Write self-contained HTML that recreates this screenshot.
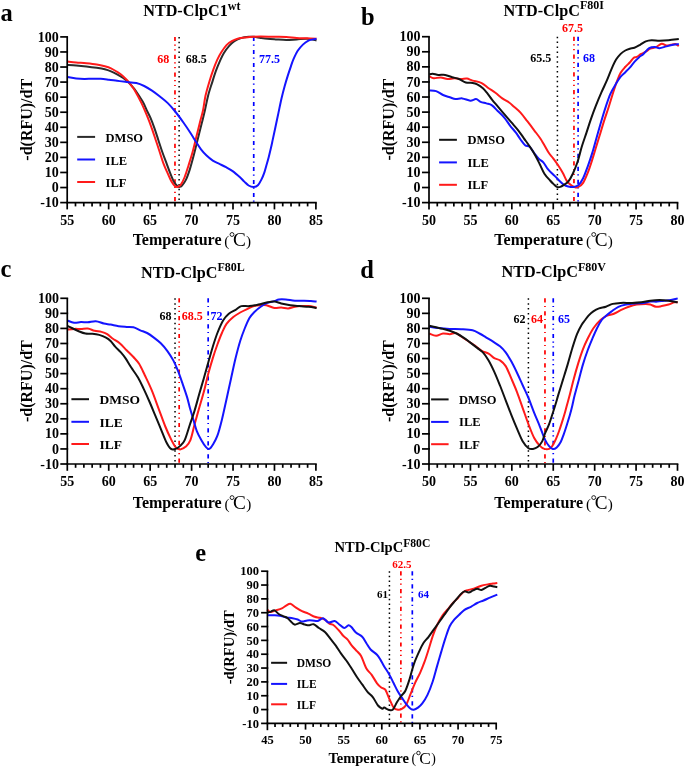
<!DOCTYPE html>
<html><head><meta charset="utf-8"><style>
html,body{margin:0;padding:0;background:#fff;}
svg{display:block;will-change:transform;}
text{font-family:"Liberation Serif", serif;font-weight:bold;fill:#000;}
</style></head><body>
<svg width="685" height="767" viewBox="0 0 685 767">
<rect width="685" height="767" fill="#fff"/>
<line x1="174.97" y1="36.90" x2="174.97" y2="202.60" stroke="#ff0000" stroke-width="1.7" stroke-dasharray="4.2 3.4 1.2 3.6 1.2 4.2"/>
<text x="157.20" y="63.00" font-size="12" fill="#ff0000" style="fill:#ff0000">68</text>
<line x1="179.12" y1="36.90" x2="179.12" y2="202.60" stroke="#000" stroke-width="1.5" stroke-dasharray="1.5 3.4"/>
<text x="185.80" y="63.00" font-size="12" fill="#000" style="fill:#000">68.5</text>
<line x1="253.73" y1="36.90" x2="253.73" y2="202.60" stroke="#0000ff" stroke-width="1.7" stroke-dasharray="4.2 3.4 1.2 4.2"/>
<text x="258.90" y="63.00" font-size="12" fill="#0000ff" style="fill:#0000ff">77.5</text>
<path d="M67.30,64.90 C68.78,64.98 73.02,65.15 76.20,65.40 C79.38,65.65 82.98,66.00 86.40,66.40 C89.82,66.80 93.63,67.32 96.70,67.80 C99.77,68.28 102.42,68.70 104.80,69.30 C107.18,69.90 108.95,70.55 111.00,71.40 C113.05,72.25 115.07,73.30 117.10,74.40 C119.13,75.50 121.33,76.72 123.20,78.00 C125.07,79.28 126.77,80.65 128.30,82.10 C129.83,83.55 131.20,85.30 132.40,86.70 C133.60,88.10 133.77,87.98 135.50,90.50 C137.23,93.02 140.95,98.55 142.80,101.80 C144.65,105.05 145.32,107.32 146.60,110.00 C147.88,112.68 149.18,114.83 150.50,117.90 C151.82,120.97 153.18,124.68 154.50,128.40 C155.82,132.12 157.10,136.27 158.40,140.20 C159.70,144.13 160.98,148.27 162.30,152.00 C163.62,155.73 164.98,159.08 166.30,162.60 C167.62,166.12 168.88,169.82 170.20,173.10 C171.52,176.38 173.00,180.12 174.20,182.30 C175.40,184.48 176.53,185.43 177.40,186.20 C178.27,186.97 178.63,187.02 179.40,186.90 C180.17,186.78 180.90,186.72 182.00,185.50 C183.10,184.28 184.68,182.33 186.00,179.60 C187.32,176.87 188.58,173.25 189.90,169.10 C191.22,164.95 192.58,159.73 193.90,154.70 C195.22,149.67 196.48,144.17 197.80,138.90 C199.12,133.63 200.60,127.92 201.80,123.10 C203.00,118.28 203.95,114.57 205.00,110.00 C206.05,105.43 206.92,100.27 208.10,95.70 C209.28,91.13 210.78,86.77 212.10,82.60 C213.42,78.43 214.68,74.32 216.00,70.70 C217.32,67.08 218.68,63.85 220.00,60.90 C221.32,57.95 222.37,55.52 223.90,53.00 C225.43,50.48 227.45,47.77 229.20,45.80 C230.95,43.83 232.43,42.48 234.40,41.20 C236.37,39.92 238.58,38.83 241.00,38.10 C243.42,37.37 246.72,37.02 248.90,36.80 C251.08,36.58 252.13,36.62 254.10,36.80 C256.07,36.98 258.47,37.57 260.70,37.90 C262.93,38.23 264.98,38.55 267.50,38.80 C270.02,39.05 272.67,39.20 275.80,39.40 C278.93,39.60 282.82,40.00 286.30,40.00 C289.78,40.00 293.23,39.60 296.70,39.40 C300.17,39.20 303.80,38.63 307.10,38.80 C310.40,38.97 314.93,40.13 316.50,40.40" fill="none" stroke="#2b2b2b" stroke-width="2" stroke-linejoin="round"/>
<path d="M67.30,61.50 C68.78,61.65 73.02,62.12 76.20,62.40 C79.38,62.68 82.98,62.87 86.40,63.20 C89.82,63.53 93.63,63.90 96.70,64.40 C99.77,64.90 102.42,65.55 104.80,66.20 C107.18,66.85 108.95,67.35 111.00,68.30 C113.05,69.25 115.23,70.72 117.10,71.90 C118.97,73.08 120.50,73.97 122.20,75.40 C123.90,76.83 125.77,78.78 127.30,80.50 C128.83,82.22 130.20,84.12 131.40,85.70 C132.60,87.28 132.82,87.10 134.50,90.00 C136.18,92.90 139.27,98.45 141.50,103.10 C143.73,107.75 146.18,113.68 147.90,117.90 C149.62,122.12 150.48,124.68 151.80,128.40 C153.12,132.12 154.48,136.27 155.80,140.20 C157.12,144.13 158.40,148.05 159.70,152.00 C161.00,155.95 162.28,160.38 163.60,163.90 C164.92,167.42 166.28,170.15 167.60,173.10 C168.92,176.05 170.30,179.47 171.50,181.60 C172.70,183.73 173.82,185.02 174.80,185.90 C175.78,186.78 176.42,187.07 177.40,186.90 C178.38,186.73 179.48,186.55 180.70,184.90 C181.92,183.25 183.38,180.28 184.70,177.00 C186.02,173.72 187.28,169.37 188.60,165.20 C189.92,161.03 191.28,156.82 192.60,152.00 C193.92,147.18 195.20,141.55 196.50,136.30 C197.80,131.05 199.30,124.88 200.40,120.50 C201.50,116.12 202.25,114.13 203.10,110.00 C203.95,105.87 204.43,100.50 205.50,95.70 C206.57,90.90 208.18,85.58 209.50,81.20 C210.82,76.82 212.10,73.00 213.40,69.40 C214.70,65.80 215.98,62.45 217.30,59.60 C218.62,56.75 219.77,54.72 221.30,52.30 C222.83,49.88 224.75,46.95 226.50,45.10 C228.25,43.25 229.82,42.30 231.80,41.20 C233.78,40.10 236.22,39.10 238.40,38.50 C240.58,37.90 242.50,37.88 244.90,37.60 C247.30,37.32 250.17,36.97 252.80,36.80 C255.43,36.63 256.87,36.62 260.70,36.60 C264.53,36.58 271.53,36.65 275.80,36.70 C280.07,36.75 282.82,36.70 286.30,36.90 C289.78,37.10 293.23,37.67 296.70,37.90 C300.17,38.13 303.80,38.15 307.10,38.30 C310.40,38.45 314.93,38.72 316.50,38.80" fill="none" stroke="#ff1a1a" stroke-width="2" stroke-linejoin="round"/>
<path d="M67.30,77.00 C68.78,77.25 73.35,78.17 76.20,78.50 C79.05,78.83 81.67,78.97 84.40,79.00 C87.13,79.03 89.88,78.73 92.60,78.70 C95.32,78.67 97.98,78.63 100.70,78.80 C103.42,78.97 106.17,79.37 108.90,79.70 C111.63,80.03 114.37,80.45 117.10,80.80 C119.83,81.15 122.10,81.42 125.30,81.80 C128.50,82.18 133.15,82.40 136.30,83.10 C139.45,83.80 141.58,84.75 144.20,86.00 C146.82,87.25 149.38,88.85 152.00,90.60 C154.62,92.35 157.27,94.42 159.90,96.50 C162.53,98.58 165.32,100.68 167.80,103.10 C170.28,105.52 172.20,107.77 174.80,111.00 C177.40,114.23 180.78,118.83 183.40,122.50 C186.02,126.17 188.43,129.83 190.50,133.00 C192.57,136.17 194.05,138.77 195.80,141.50 C197.55,144.23 199.25,147.10 201.00,149.40 C202.75,151.70 204.33,153.43 206.30,155.30 C208.27,157.17 210.62,159.17 212.80,160.60 C214.98,162.03 217.20,162.80 219.40,163.90 C221.60,165.00 223.80,166.00 226.00,167.20 C228.20,168.40 230.27,169.42 232.60,171.10 C234.93,172.78 238.05,175.55 240.00,177.30 C241.95,179.05 242.87,180.23 244.30,181.60 C245.73,182.97 247.05,184.60 248.60,185.50 C250.15,186.40 252.05,187.05 253.60,187.00 C255.15,186.95 256.58,186.47 257.90,185.20 C259.22,183.93 260.42,181.55 261.50,179.40 C262.58,177.25 263.57,174.68 264.40,172.30 C265.23,169.92 265.78,167.62 266.50,165.10 C267.22,162.58 267.98,159.95 268.70,157.20 C269.42,154.45 270.13,151.48 270.80,148.60 C271.47,145.72 271.95,143.38 272.70,139.90 C273.45,136.42 274.35,132.17 275.30,127.70 C276.25,123.23 277.37,117.97 278.40,113.10 C279.43,108.23 280.45,103.02 281.50,98.50 C282.55,93.98 283.65,89.82 284.70,86.00 C285.75,82.18 286.77,78.88 287.80,75.60 C288.83,72.32 289.95,69.03 290.90,66.30 C291.85,63.57 292.37,61.78 293.50,59.20 C294.63,56.62 296.13,53.23 297.70,50.80 C299.27,48.37 301.18,46.27 302.90,44.60 C304.62,42.93 306.32,41.67 308.00,40.80 C309.68,39.93 311.58,39.73 313.00,39.40 C314.42,39.07 315.92,38.90 316.50,38.80" fill="none" stroke="#1414ff" stroke-width="2" stroke-linejoin="round"/>
<line x1="67.20" y1="36.90" x2="67.20" y2="209.40" stroke="#000" stroke-width="1.7"/>
<line x1="66.35" y1="202.60" x2="316.75" y2="202.60" stroke="#000" stroke-width="1.7"/>
<line x1="60.20" y1="202.60" x2="68.05" y2="202.60" stroke="#000" stroke-width="1.7"/>
<text x="58.80" y="207.20" text-anchor="end" font-size="14">-10</text>
<line x1="60.20" y1="187.54" x2="68.05" y2="187.54" stroke="#000" stroke-width="1.7"/>
<text x="58.80" y="192.14" text-anchor="end" font-size="14">0</text>
<line x1="60.20" y1="172.47" x2="68.05" y2="172.47" stroke="#000" stroke-width="1.7"/>
<text x="58.80" y="177.07" text-anchor="end" font-size="14">10</text>
<line x1="60.20" y1="157.41" x2="68.05" y2="157.41" stroke="#000" stroke-width="1.7"/>
<text x="58.80" y="162.01" text-anchor="end" font-size="14">20</text>
<line x1="60.20" y1="142.35" x2="68.05" y2="142.35" stroke="#000" stroke-width="1.7"/>
<text x="58.80" y="146.95" text-anchor="end" font-size="14">30</text>
<line x1="60.20" y1="127.28" x2="68.05" y2="127.28" stroke="#000" stroke-width="1.7"/>
<text x="58.80" y="131.88" text-anchor="end" font-size="14">40</text>
<line x1="60.20" y1="112.22" x2="68.05" y2="112.22" stroke="#000" stroke-width="1.7"/>
<text x="58.80" y="116.82" text-anchor="end" font-size="14">50</text>
<line x1="60.20" y1="97.15" x2="68.05" y2="97.15" stroke="#000" stroke-width="1.7"/>
<text x="58.80" y="101.75" text-anchor="end" font-size="14">60</text>
<line x1="60.20" y1="82.09" x2="68.05" y2="82.09" stroke="#000" stroke-width="1.7"/>
<text x="58.80" y="86.69" text-anchor="end" font-size="14">70</text>
<line x1="60.20" y1="67.03" x2="68.05" y2="67.03" stroke="#000" stroke-width="1.7"/>
<text x="58.80" y="71.63" text-anchor="end" font-size="14">80</text>
<line x1="60.20" y1="51.96" x2="68.05" y2="51.96" stroke="#000" stroke-width="1.7"/>
<text x="58.80" y="56.56" text-anchor="end" font-size="14">90</text>
<line x1="60.20" y1="36.90" x2="68.05" y2="36.90" stroke="#000" stroke-width="1.7"/>
<text x="58.80" y="41.50" text-anchor="end" font-size="14">100</text>
<line x1="75.49" y1="202.60" x2="75.49" y2="206.40" stroke="#000" stroke-width="1.7"/>
<line x1="83.78" y1="202.60" x2="83.78" y2="206.40" stroke="#000" stroke-width="1.7"/>
<line x1="92.07" y1="202.60" x2="92.07" y2="206.40" stroke="#000" stroke-width="1.7"/>
<line x1="100.36" y1="202.60" x2="100.36" y2="206.40" stroke="#000" stroke-width="1.7"/>
<line x1="108.65" y1="202.60" x2="108.65" y2="209.40" stroke="#000" stroke-width="1.7"/>
<line x1="116.94" y1="202.60" x2="116.94" y2="206.40" stroke="#000" stroke-width="1.7"/>
<line x1="125.23" y1="202.60" x2="125.23" y2="206.40" stroke="#000" stroke-width="1.7"/>
<line x1="133.52" y1="202.60" x2="133.52" y2="206.40" stroke="#000" stroke-width="1.7"/>
<line x1="141.81" y1="202.60" x2="141.81" y2="206.40" stroke="#000" stroke-width="1.7"/>
<line x1="150.10" y1="202.60" x2="150.10" y2="209.40" stroke="#000" stroke-width="1.7"/>
<line x1="158.39" y1="202.60" x2="158.39" y2="206.40" stroke="#000" stroke-width="1.7"/>
<line x1="166.68" y1="202.60" x2="166.68" y2="206.40" stroke="#000" stroke-width="1.7"/>
<line x1="174.97" y1="202.60" x2="174.97" y2="206.40" stroke="#000" stroke-width="1.7"/>
<line x1="183.26" y1="202.60" x2="183.26" y2="206.40" stroke="#000" stroke-width="1.7"/>
<line x1="191.55" y1="202.60" x2="191.55" y2="209.40" stroke="#000" stroke-width="1.7"/>
<line x1="199.84" y1="202.60" x2="199.84" y2="206.40" stroke="#000" stroke-width="1.7"/>
<line x1="208.13" y1="202.60" x2="208.13" y2="206.40" stroke="#000" stroke-width="1.7"/>
<line x1="216.42" y1="202.60" x2="216.42" y2="206.40" stroke="#000" stroke-width="1.7"/>
<line x1="224.71" y1="202.60" x2="224.71" y2="206.40" stroke="#000" stroke-width="1.7"/>
<line x1="233.00" y1="202.60" x2="233.00" y2="209.40" stroke="#000" stroke-width="1.7"/>
<line x1="241.29" y1="202.60" x2="241.29" y2="206.40" stroke="#000" stroke-width="1.7"/>
<line x1="249.58" y1="202.60" x2="249.58" y2="206.40" stroke="#000" stroke-width="1.7"/>
<line x1="257.87" y1="202.60" x2="257.87" y2="206.40" stroke="#000" stroke-width="1.7"/>
<line x1="266.16" y1="202.60" x2="266.16" y2="206.40" stroke="#000" stroke-width="1.7"/>
<line x1="274.45" y1="202.60" x2="274.45" y2="209.40" stroke="#000" stroke-width="1.7"/>
<line x1="282.74" y1="202.60" x2="282.74" y2="206.40" stroke="#000" stroke-width="1.7"/>
<line x1="291.03" y1="202.60" x2="291.03" y2="206.40" stroke="#000" stroke-width="1.7"/>
<line x1="299.32" y1="202.60" x2="299.32" y2="206.40" stroke="#000" stroke-width="1.7"/>
<line x1="307.61" y1="202.60" x2="307.61" y2="206.40" stroke="#000" stroke-width="1.7"/>
<line x1="315.90" y1="202.60" x2="315.90" y2="209.40" stroke="#000" stroke-width="1.7"/>
<text x="67.20" y="224.80" text-anchor="middle" font-size="14">55</text>
<text x="108.65" y="224.80" text-anchor="middle" font-size="14">60</text>
<text x="150.10" y="224.80" text-anchor="middle" font-size="14">65</text>
<text x="191.55" y="224.80" text-anchor="middle" font-size="14">70</text>
<text x="233.00" y="224.80" text-anchor="middle" font-size="14">75</text>
<text x="274.45" y="224.80" text-anchor="middle" font-size="14">80</text>
<text x="315.90" y="224.80" text-anchor="middle" font-size="14">85</text>
<text x="132.65" y="245.30" font-size="16">Temperature</text>
<text x="224.35" y="245.60" font-size="15.20" font-weight="normal" style="font-weight:normal">(</text>
<circle cx="232.00" cy="234.50" r="1.95" fill="none" stroke="#000" stroke-width="0.85"/>
<text x="232.95" y="246.00" font-size="19.20" font-weight="normal" style="font-weight:normal">C</text>
<text x="251.15" y="245.60" font-size="15.20" text-anchor="end" font-weight="normal" style="font-weight:normal">)</text>
<text transform="translate(31.70,119.75) rotate(-90)" text-anchor="middle" font-size="16">-d(RFU)/dT</text>
<text x="143.20" y="16.10" font-size="16.2">NTD-ClpC1<tspan font-size="11.99" dy="-6.48">wt</tspan></text>
<text x="0.50" y="20.60" font-size="24.5">a</text>
<line x1="77.20" y1="136.90" x2="95.10" y2="136.90" stroke="#2b2b2b" stroke-width="2"/>
<text x="105.60" y="141.90" font-size="12.5">DMSO</text>
<line x1="77.20" y1="159.50" x2="95.10" y2="159.50" stroke="#1414ff" stroke-width="2"/>
<text x="105.60" y="164.50" font-size="12.5">ILE</text>
<line x1="77.20" y1="182.00" x2="95.10" y2="182.00" stroke="#ff1a1a" stroke-width="2"/>
<text x="105.60" y="187.00" font-size="12.5">ILF</text>
<line x1="557.39" y1="36.70" x2="557.39" y2="202.60" stroke="#000" stroke-width="1.5" stroke-dasharray="1.5 3.4"/>
<text x="530.30" y="62.20" font-size="12" fill="#000" style="fill:#000">65.5</text>
<line x1="573.96" y1="36.70" x2="573.96" y2="202.60" stroke="#ff0000" stroke-width="1.7" stroke-dasharray="4.2 3.4 1.2 3.6 1.2 4.2"/>
<text x="562.00" y="31.80" font-size="12" fill="#ff0000" style="fill:#ff0000">67.5</text>
<line x1="578.10" y1="36.70" x2="578.10" y2="202.60" stroke="#0000ff" stroke-width="1.7" stroke-dasharray="4.2 3.4 1.2 4.2"/>
<text x="583.10" y="62.20" font-size="12" fill="#0000ff" style="fill:#0000ff">68</text>
<path d="M429.30,76.30 C430.05,76.63 431.90,78.12 433.80,78.30 C435.70,78.48 438.42,77.28 440.70,77.40 C442.98,77.52 445.22,78.85 447.50,79.00 C449.78,79.15 452.12,78.30 454.40,78.30 C456.68,78.30 459.12,78.95 461.20,79.00 C463.28,79.05 465.00,78.33 466.90,78.60 C468.80,78.87 470.13,79.85 472.60,80.60 C475.07,81.35 479.03,81.83 481.70,83.10 C484.37,84.37 486.32,86.60 488.60,88.20 C490.88,89.80 493.12,91.00 495.40,92.70 C497.68,94.40 500.02,96.77 502.30,98.40 C504.58,100.03 507.20,101.17 509.10,102.50 C511.00,103.83 511.80,104.72 513.70,106.40 C515.60,108.08 518.23,110.13 520.50,112.60 C522.77,115.07 525.02,118.25 527.30,121.20 C529.58,124.15 531.92,127.25 534.20,130.30 C536.48,133.35 538.63,135.83 541.00,139.50 C543.37,143.17 546.37,149.17 548.40,152.30 C550.43,155.43 551.67,156.27 553.20,158.30 C554.73,160.33 556.02,162.10 557.60,164.50 C559.18,166.90 561.17,169.97 562.70,172.70 C564.23,175.43 565.43,178.85 566.80,180.90 C568.17,182.95 569.72,184.02 570.90,185.00 C572.08,185.98 572.72,186.43 573.90,186.80 C575.08,187.17 576.47,187.85 578.00,187.20 C579.53,186.55 581.40,185.48 583.10,182.90 C584.80,180.32 586.85,175.02 588.20,171.70 C589.55,168.38 590.03,166.62 591.20,163.00 C592.37,159.38 593.83,154.45 595.20,150.00 C596.57,145.55 597.93,141.12 599.40,136.30 C600.87,131.48 602.45,125.98 604.00,121.10 C605.55,116.22 607.13,111.90 608.70,107.00 C610.27,102.10 612.02,96.02 613.40,91.70 C614.78,87.38 615.82,84.23 617.00,81.10 C618.18,77.97 619.13,75.25 620.50,72.90 C621.87,70.55 623.62,68.77 625.20,67.00 C626.78,65.23 628.62,63.80 630.00,62.30 C631.38,60.80 632.38,58.90 633.50,58.00 C634.62,57.10 635.42,57.58 636.70,56.90 C637.98,56.22 639.68,54.77 641.20,53.90 C642.72,53.03 644.28,52.57 645.80,51.70 C647.32,50.83 648.60,49.47 650.30,48.70 C652.00,47.93 654.10,47.93 656.00,47.10 C657.90,46.27 659.98,43.97 661.70,43.70 C663.42,43.43 664.77,45.32 666.30,45.50 C667.83,45.68 669.38,45.03 670.90,44.80 C672.42,44.57 674.08,43.90 675.40,44.10 C676.72,44.30 678.23,45.68 678.80,46.00" fill="none" stroke="#ff1a1a" stroke-width="2" stroke-linejoin="round"/>
<path d="M429.30,90.40 C430.43,90.52 433.82,90.33 436.10,91.10 C438.38,91.87 440.72,93.97 443.00,95.00 C445.28,96.03 447.72,96.62 449.80,97.30 C451.88,97.98 453.42,98.92 455.50,99.10 C457.58,99.28 459.83,98.13 462.30,98.40 C464.77,98.67 468.02,100.58 470.30,100.70 C472.58,100.82 474.28,98.92 476.00,99.10 C477.72,99.28 478.88,101.08 480.60,101.80 C482.32,102.52 484.40,102.82 486.30,103.40 C488.20,103.98 490.10,104.03 492.00,105.30 C493.90,106.57 495.62,108.92 497.70,111.00 C499.78,113.08 502.42,115.33 504.50,117.80 C506.58,120.27 508.30,123.33 510.20,125.80 C512.10,128.27 514.18,130.32 515.90,132.60 C517.62,134.88 518.97,137.40 520.50,139.50 C522.03,141.60 523.58,143.98 525.10,145.20 C526.62,146.42 528.08,145.48 529.60,146.80 C531.12,148.12 532.68,151.10 534.20,153.10 C535.72,155.10 537.18,157.27 538.70,158.80 C540.22,160.33 541.77,160.58 543.30,162.30 C544.83,164.02 546.38,167.20 547.90,169.10 C549.42,171.00 550.88,172.18 552.40,173.70 C553.92,175.22 555.88,177.07 557.00,178.20 C558.12,179.33 557.98,179.43 559.10,180.50 C560.22,181.57 562.18,183.62 563.70,184.60 C565.22,185.58 566.50,186.02 568.20,186.40 C569.90,186.78 572.18,187.12 573.90,186.90 C575.62,186.68 576.97,186.55 578.50,185.10 C580.03,183.65 581.58,181.25 583.10,178.20 C584.62,175.15 586.08,170.98 587.60,166.80 C589.12,162.62 590.68,158.03 592.20,153.10 C593.72,148.17 595.18,142.52 596.70,137.20 C598.22,131.88 599.77,126.33 601.30,121.20 C602.83,116.07 604.38,110.95 605.90,106.40 C607.42,101.85 608.70,97.70 610.40,93.90 C612.10,90.10 614.38,86.47 616.10,83.60 C617.82,80.73 619.17,78.60 620.70,76.70 C622.23,74.80 623.78,73.72 625.30,72.20 C626.82,70.68 628.28,69.32 629.80,67.60 C631.32,65.88 632.88,63.60 634.40,61.90 C635.92,60.20 637.38,58.73 638.90,57.40 C640.42,56.07 641.78,55.43 643.50,53.90 C645.22,52.37 647.30,49.33 649.20,48.20 C651.10,47.07 653.18,47.10 654.90,47.10 C656.62,47.10 657.60,48.32 659.50,48.20 C661.40,48.08 664.03,46.97 666.30,46.40 C668.57,45.83 671.02,45.18 673.10,44.80 C675.18,44.42 677.85,44.22 678.80,44.10" fill="none" stroke="#1414ff" stroke-width="2" stroke-linejoin="round"/>
<path d="M429.30,74.50 C429.87,74.38 431.18,73.73 432.70,73.80 C434.22,73.87 436.32,74.72 438.40,74.90 C440.48,75.08 442.92,74.52 445.20,74.90 C447.48,75.28 449.82,76.52 452.10,77.20 C454.38,77.88 456.62,78.12 458.90,79.00 C461.18,79.88 463.52,81.85 465.80,82.50 C468.08,83.15 470.70,82.60 472.60,82.90 C474.50,83.20 475.48,83.42 477.20,84.30 C478.92,85.18 481.20,86.68 482.90,88.20 C484.60,89.72 485.88,91.50 487.40,93.40 C488.92,95.30 490.28,97.43 492.00,99.60 C493.72,101.77 495.62,103.93 497.70,106.40 C499.78,108.87 502.22,111.73 504.50,114.40 C506.78,117.07 509.12,119.75 511.40,122.40 C513.68,125.05 516.12,127.65 518.20,130.30 C520.28,132.95 522.00,135.63 523.90,138.30 C525.80,140.97 527.70,143.45 529.60,146.30 C531.50,149.15 533.58,152.37 535.30,155.40 C537.02,158.43 538.38,161.45 539.90,164.50 C541.42,167.55 542.70,171.03 544.40,173.70 C546.10,176.37 548.60,178.80 550.10,180.50 C551.60,182.20 552.28,182.83 553.40,183.90 C554.52,184.97 555.65,186.40 556.80,186.90 C557.95,187.40 559.15,187.20 560.30,186.90 C561.45,186.60 562.38,185.97 563.70,185.10 C565.02,184.23 566.68,183.60 568.20,181.70 C569.72,179.80 571.27,176.93 572.80,173.70 C574.33,170.47 575.88,166.87 577.40,162.30 C578.92,157.73 580.38,151.25 581.90,146.30 C583.42,141.35 584.98,137.17 586.50,132.60 C588.02,128.03 589.48,123.27 591.00,118.90 C592.52,114.53 593.88,110.77 595.60,106.40 C597.32,102.03 599.40,97.07 601.30,92.70 C603.20,88.33 605.28,84.18 607.00,80.20 C608.72,76.22 610.08,72.23 611.60,68.80 C613.12,65.37 614.58,62.08 616.10,59.60 C617.62,57.12 619.17,55.42 620.70,53.90 C622.23,52.38 623.78,51.37 625.30,50.50 C626.82,49.63 628.28,49.15 629.80,48.70 C631.32,48.25 632.68,48.45 634.40,47.80 C636.12,47.15 638.20,45.87 640.10,44.80 C642.00,43.73 643.90,42.15 645.80,41.40 C647.70,40.65 649.22,40.42 651.50,40.30 C653.78,40.18 656.65,40.70 659.50,40.70 C662.35,40.70 665.38,40.57 668.60,40.30 C671.82,40.03 677.10,39.30 678.80,39.10" fill="none" stroke="#111" stroke-width="2" stroke-linejoin="round"/>
<line x1="429.00" y1="36.70" x2="429.00" y2="209.40" stroke="#000" stroke-width="1.7"/>
<line x1="428.15" y1="202.60" x2="678.35" y2="202.60" stroke="#000" stroke-width="1.7"/>
<line x1="422.00" y1="202.60" x2="429.85" y2="202.60" stroke="#000" stroke-width="1.7"/>
<text x="420.60" y="207.20" text-anchor="end" font-size="14">-10</text>
<line x1="422.00" y1="187.52" x2="429.85" y2="187.52" stroke="#000" stroke-width="1.7"/>
<text x="420.60" y="192.12" text-anchor="end" font-size="14">0</text>
<line x1="422.00" y1="172.44" x2="429.85" y2="172.44" stroke="#000" stroke-width="1.7"/>
<text x="420.60" y="177.04" text-anchor="end" font-size="14">10</text>
<line x1="422.00" y1="157.35" x2="429.85" y2="157.35" stroke="#000" stroke-width="1.7"/>
<text x="420.60" y="161.95" text-anchor="end" font-size="14">20</text>
<line x1="422.00" y1="142.27" x2="429.85" y2="142.27" stroke="#000" stroke-width="1.7"/>
<text x="420.60" y="146.87" text-anchor="end" font-size="14">30</text>
<line x1="422.00" y1="127.19" x2="429.85" y2="127.19" stroke="#000" stroke-width="1.7"/>
<text x="420.60" y="131.79" text-anchor="end" font-size="14">40</text>
<line x1="422.00" y1="112.11" x2="429.85" y2="112.11" stroke="#000" stroke-width="1.7"/>
<text x="420.60" y="116.71" text-anchor="end" font-size="14">50</text>
<line x1="422.00" y1="97.03" x2="429.85" y2="97.03" stroke="#000" stroke-width="1.7"/>
<text x="420.60" y="101.63" text-anchor="end" font-size="14">60</text>
<line x1="422.00" y1="81.95" x2="429.85" y2="81.95" stroke="#000" stroke-width="1.7"/>
<text x="420.60" y="86.55" text-anchor="end" font-size="14">70</text>
<line x1="422.00" y1="66.86" x2="429.85" y2="66.86" stroke="#000" stroke-width="1.7"/>
<text x="420.60" y="71.46" text-anchor="end" font-size="14">80</text>
<line x1="422.00" y1="51.78" x2="429.85" y2="51.78" stroke="#000" stroke-width="1.7"/>
<text x="420.60" y="56.38" text-anchor="end" font-size="14">90</text>
<line x1="422.00" y1="36.70" x2="429.85" y2="36.70" stroke="#000" stroke-width="1.7"/>
<text x="420.60" y="41.30" text-anchor="end" font-size="14">100</text>
<line x1="437.28" y1="202.60" x2="437.28" y2="206.40" stroke="#000" stroke-width="1.7"/>
<line x1="445.57" y1="202.60" x2="445.57" y2="206.40" stroke="#000" stroke-width="1.7"/>
<line x1="453.85" y1="202.60" x2="453.85" y2="206.40" stroke="#000" stroke-width="1.7"/>
<line x1="462.13" y1="202.60" x2="462.13" y2="206.40" stroke="#000" stroke-width="1.7"/>
<line x1="470.42" y1="202.60" x2="470.42" y2="209.40" stroke="#000" stroke-width="1.7"/>
<line x1="478.70" y1="202.60" x2="478.70" y2="206.40" stroke="#000" stroke-width="1.7"/>
<line x1="486.98" y1="202.60" x2="486.98" y2="206.40" stroke="#000" stroke-width="1.7"/>
<line x1="495.27" y1="202.60" x2="495.27" y2="206.40" stroke="#000" stroke-width="1.7"/>
<line x1="503.55" y1="202.60" x2="503.55" y2="206.40" stroke="#000" stroke-width="1.7"/>
<line x1="511.83" y1="202.60" x2="511.83" y2="209.40" stroke="#000" stroke-width="1.7"/>
<line x1="520.12" y1="202.60" x2="520.12" y2="206.40" stroke="#000" stroke-width="1.7"/>
<line x1="528.40" y1="202.60" x2="528.40" y2="206.40" stroke="#000" stroke-width="1.7"/>
<line x1="536.68" y1="202.60" x2="536.68" y2="206.40" stroke="#000" stroke-width="1.7"/>
<line x1="544.97" y1="202.60" x2="544.97" y2="206.40" stroke="#000" stroke-width="1.7"/>
<line x1="553.25" y1="202.60" x2="553.25" y2="209.40" stroke="#000" stroke-width="1.7"/>
<line x1="561.53" y1="202.60" x2="561.53" y2="206.40" stroke="#000" stroke-width="1.7"/>
<line x1="569.82" y1="202.60" x2="569.82" y2="206.40" stroke="#000" stroke-width="1.7"/>
<line x1="578.10" y1="202.60" x2="578.10" y2="206.40" stroke="#000" stroke-width="1.7"/>
<line x1="586.38" y1="202.60" x2="586.38" y2="206.40" stroke="#000" stroke-width="1.7"/>
<line x1="594.67" y1="202.60" x2="594.67" y2="209.40" stroke="#000" stroke-width="1.7"/>
<line x1="602.95" y1="202.60" x2="602.95" y2="206.40" stroke="#000" stroke-width="1.7"/>
<line x1="611.23" y1="202.60" x2="611.23" y2="206.40" stroke="#000" stroke-width="1.7"/>
<line x1="619.52" y1="202.60" x2="619.52" y2="206.40" stroke="#000" stroke-width="1.7"/>
<line x1="627.80" y1="202.60" x2="627.80" y2="206.40" stroke="#000" stroke-width="1.7"/>
<line x1="636.08" y1="202.60" x2="636.08" y2="209.40" stroke="#000" stroke-width="1.7"/>
<line x1="644.37" y1="202.60" x2="644.37" y2="206.40" stroke="#000" stroke-width="1.7"/>
<line x1="652.65" y1="202.60" x2="652.65" y2="206.40" stroke="#000" stroke-width="1.7"/>
<line x1="660.93" y1="202.60" x2="660.93" y2="206.40" stroke="#000" stroke-width="1.7"/>
<line x1="669.22" y1="202.60" x2="669.22" y2="206.40" stroke="#000" stroke-width="1.7"/>
<line x1="677.50" y1="202.60" x2="677.50" y2="209.40" stroke="#000" stroke-width="1.7"/>
<text x="429.00" y="224.80" text-anchor="middle" font-size="14">50</text>
<text x="470.42" y="224.80" text-anchor="middle" font-size="14">55</text>
<text x="511.83" y="224.80" text-anchor="middle" font-size="14">60</text>
<text x="553.25" y="224.80" text-anchor="middle" font-size="14">65</text>
<text x="594.67" y="224.80" text-anchor="middle" font-size="14">70</text>
<text x="636.08" y="224.80" text-anchor="middle" font-size="14">75</text>
<text x="677.50" y="224.80" text-anchor="middle" font-size="14">80</text>
<text x="494.35" y="245.30" font-size="16">Temperature</text>
<text x="586.05" y="245.60" font-size="15.20" font-weight="normal" style="font-weight:normal">(</text>
<circle cx="593.70" cy="234.50" r="1.95" fill="none" stroke="#000" stroke-width="0.85"/>
<text x="594.65" y="246.00" font-size="19.20" font-weight="normal" style="font-weight:normal">C</text>
<text x="612.85" y="245.60" font-size="15.20" text-anchor="end" font-weight="normal" style="font-weight:normal">)</text>
<text transform="translate(393.50,119.65) rotate(-90)" text-anchor="middle" font-size="16">-d(RFU)/dT</text>
<text x="503.50" y="15.80" font-size="16.2">NTD-ClpC<tspan font-size="11.99" dy="-6.48">F80I</tspan></text>
<text x="361.00" y="24.70" font-size="24.5">b</text>
<line x1="439.10" y1="139.80" x2="456.90" y2="139.80" stroke="#111" stroke-width="2"/>
<text x="467.40" y="144.40" font-size="12.5">DMSO</text>
<line x1="439.10" y1="162.40" x2="456.90" y2="162.40" stroke="#1414ff" stroke-width="2"/>
<text x="467.40" y="167.00" font-size="12.5">ILE</text>
<line x1="439.10" y1="184.80" x2="456.90" y2="184.80" stroke="#ff1a1a" stroke-width="2"/>
<text x="467.40" y="189.40" font-size="12.5">ILF</text>
<line x1="175.03" y1="298.30" x2="175.03" y2="464.00" stroke="#000" stroke-width="1.5" stroke-dasharray="1.5 3.4"/>
<text x="159.60" y="320.00" font-size="12" fill="#000" style="fill:#000">68</text>
<line x1="179.17" y1="298.30" x2="179.17" y2="464.00" stroke="#ff0000" stroke-width="1.7" stroke-dasharray="4.2 3.4 1.2 3.6 1.2 4.2"/>
<text x="181.80" y="320.00" font-size="12" fill="#ff0000" style="fill:#ff0000">68.5</text>
<line x1="208.17" y1="298.30" x2="208.17" y2="464.00" stroke="#0000ff" stroke-width="1.7" stroke-dasharray="4.2 3.4 1.2 4.2"/>
<text x="210.60" y="320.00" font-size="12" fill="#0000ff" style="fill:#0000ff">72</text>
<path d="M67.30,329.60 C68.43,329.48 71.82,329.02 74.10,328.90 C76.38,328.78 78.72,328.97 81.00,328.90 C83.28,328.83 85.53,328.18 87.80,328.50 C90.07,328.82 92.32,330.23 94.60,330.80 C96.88,331.37 99.40,331.33 101.50,331.90 C103.60,332.47 105.30,333.07 107.20,334.20 C109.10,335.33 110.82,337.18 112.90,338.70 C114.98,340.22 117.42,341.38 119.70,343.30 C121.98,345.22 124.32,347.92 126.60,350.20 C128.88,352.48 131.32,354.73 133.40,357.00 C135.48,359.27 137.20,360.77 139.10,363.80 C141.00,366.83 142.70,370.82 144.80,375.20 C146.90,379.58 149.42,384.58 151.70,390.10 C153.98,395.62 156.23,402.23 158.50,408.30 C160.77,414.37 163.22,421.37 165.30,426.50 C167.38,431.63 169.28,435.67 171.00,439.10 C172.72,442.53 174.07,445.38 175.60,447.10 C177.13,448.82 178.48,449.48 180.20,449.40 C181.92,449.32 184.20,448.13 185.90,446.60 C187.60,445.07 188.95,443.92 190.40,440.20 C191.85,436.48 193.15,429.62 194.60,424.30 C196.05,418.98 197.58,413.63 199.10,408.30 C200.62,402.97 202.18,398.00 203.70,392.30 C205.22,386.60 206.68,379.80 208.20,374.10 C209.72,368.40 211.27,363.03 212.80,358.10 C214.33,353.17 215.88,348.68 217.40,344.50 C218.92,340.32 220.38,336.43 221.90,333.00 C223.42,329.57 224.60,326.55 226.50,323.90 C228.40,321.25 231.02,319.00 233.30,317.10 C235.58,315.20 237.92,313.83 240.20,312.50 C242.48,311.17 244.72,310.17 247.00,309.10 C249.28,308.03 251.62,306.75 253.90,306.10 C256.18,305.45 258.62,305.35 260.70,305.20 C262.78,305.05 264.12,304.73 266.40,305.20 C268.68,305.67 271.93,307.62 274.40,308.00 C276.87,308.38 278.92,307.43 281.20,307.50 C283.48,307.57 285.82,308.52 288.10,308.40 C290.38,308.28 292.63,307.18 294.90,306.80 C297.17,306.42 299.42,306.22 301.70,306.10 C303.98,305.98 306.12,305.87 308.60,306.10 C311.08,306.33 315.27,307.27 316.60,307.50" fill="none" stroke="#ff1a1a" stroke-width="2" stroke-linejoin="round"/>
<path d="M67.30,320.50 C68.43,320.88 71.82,322.53 74.10,322.80 C76.38,323.07 78.72,322.18 81.00,322.10 C83.28,322.02 85.33,322.45 87.80,322.30 C90.27,322.15 93.13,321.00 95.80,321.20 C98.47,321.40 101.33,322.93 103.80,323.50 C106.27,324.07 108.13,324.15 110.60,324.60 C113.07,325.05 115.93,325.82 118.60,326.20 C121.27,326.58 124.13,326.72 126.60,326.90 C129.07,327.08 131.12,326.73 133.40,327.30 C135.68,327.87 138.02,329.35 140.30,330.30 C142.58,331.25 144.83,331.78 147.10,333.00 C149.37,334.22 151.62,335.88 153.90,337.60 C156.18,339.32 158.52,341.02 160.80,343.30 C163.08,345.58 165.52,348.45 167.60,351.30 C169.68,354.15 171.58,357.17 173.30,360.40 C175.02,363.63 176.38,366.90 177.90,370.70 C179.42,374.50 180.88,378.83 182.40,383.20 C183.92,387.57 185.73,392.72 187.00,396.90 C188.27,401.08 188.93,404.50 190.00,408.30 C191.07,412.10 192.27,415.90 193.40,419.70 C194.53,423.50 195.47,427.68 196.80,431.10 C198.13,434.52 199.87,437.53 201.40,440.20 C202.93,442.87 204.67,445.65 206.00,447.10 C207.33,448.55 208.27,449.28 209.40,448.90 C210.53,448.52 211.47,447.00 212.80,444.80 C214.13,442.60 215.88,439.88 217.40,435.70 C218.92,431.52 220.38,425.78 221.90,419.70 C223.42,413.62 224.98,406.03 226.50,399.20 C228.02,392.37 229.48,385.55 231.00,378.70 C232.52,371.85 234.07,364.38 235.60,358.10 C237.13,351.82 238.68,345.93 240.20,341.00 C241.72,336.07 243.18,332.30 244.70,328.50 C246.22,324.70 247.77,320.87 249.30,318.20 C250.83,315.53 252.00,314.40 253.90,312.50 C255.80,310.60 258.43,308.40 260.70,306.80 C262.97,305.20 265.22,303.85 267.50,302.90 C269.78,301.95 272.50,301.67 274.40,301.10 C276.30,300.53 277.00,299.77 278.90,299.50 C280.80,299.23 283.13,299.30 285.80,299.50 C288.47,299.70 291.87,300.50 294.90,300.70 C297.93,300.90 301.33,300.63 304.00,300.70 C306.67,300.77 308.80,300.95 310.90,301.10 C313.00,301.25 315.65,301.52 316.60,301.60" fill="none" stroke="#1414ff" stroke-width="2" stroke-linejoin="round"/>
<path d="M67.30,325.80 C68.05,326.17 69.90,327.10 71.80,328.00 C73.70,328.90 76.42,330.28 78.70,331.20 C80.98,332.12 83.22,333.08 85.50,333.50 C87.78,333.92 90.12,333.47 92.40,333.70 C94.68,333.93 96.93,334.25 99.20,334.90 C101.47,335.55 104.10,336.58 106.00,337.60 C107.90,338.62 109.07,339.48 110.60,341.00 C112.13,342.52 113.48,344.80 115.20,346.70 C116.92,348.60 119.20,350.50 120.90,352.40 C122.60,354.30 123.70,355.62 125.40,358.10 C127.10,360.58 129.00,364.07 131.10,367.30 C133.20,370.53 135.90,373.90 138.00,377.50 C140.10,381.10 141.80,384.90 143.70,388.90 C145.60,392.90 147.50,397.13 149.40,401.50 C151.30,405.87 153.20,410.55 155.10,415.10 C157.00,419.65 158.90,424.23 160.80,428.80 C162.70,433.37 164.80,439.15 166.50,442.50 C168.20,445.85 169.48,447.83 171.00,448.90 C172.52,449.97 174.07,449.40 175.60,448.90 C177.13,448.40 178.68,447.35 180.20,445.90 C181.72,444.45 183.07,443.80 184.70,440.20 C186.33,436.60 188.35,429.23 190.00,424.30 C191.65,419.37 193.08,415.55 194.60,410.60 C196.12,405.65 197.58,399.92 199.10,394.60 C200.62,389.28 202.18,384.02 203.70,378.70 C205.22,373.38 206.68,368.03 208.20,362.70 C209.72,357.37 211.27,351.65 212.80,346.70 C214.33,341.75 215.68,337.37 217.40,333.00 C219.12,328.63 221.20,323.72 223.10,320.50 C225.00,317.28 226.72,315.48 228.80,313.70 C230.88,311.92 233.52,311.07 235.60,309.80 C237.68,308.53 239.02,306.72 241.30,306.10 C243.58,305.48 246.45,306.37 249.30,306.10 C252.15,305.83 255.37,305.13 258.40,304.50 C261.43,303.87 264.83,302.78 267.50,302.30 C270.17,301.82 272.12,301.42 274.40,301.60 C276.68,301.78 278.55,302.80 281.20,303.40 C283.85,304.00 287.25,304.75 290.30,305.20 C293.35,305.65 296.45,305.83 299.50,306.10 C302.55,306.37 305.75,306.48 308.60,306.80 C311.45,307.12 315.27,307.80 316.60,308.00" fill="none" stroke="#111" stroke-width="2" stroke-linejoin="round"/>
<line x1="67.30" y1="298.30" x2="67.30" y2="470.80" stroke="#000" stroke-width="1.7"/>
<line x1="66.45" y1="464.00" x2="316.75" y2="464.00" stroke="#000" stroke-width="1.7"/>
<line x1="60.30" y1="464.00" x2="68.15" y2="464.00" stroke="#000" stroke-width="1.7"/>
<text x="58.90" y="468.60" text-anchor="end" font-size="14">-10</text>
<line x1="60.30" y1="448.94" x2="68.15" y2="448.94" stroke="#000" stroke-width="1.7"/>
<text x="58.90" y="453.54" text-anchor="end" font-size="14">0</text>
<line x1="60.30" y1="433.87" x2="68.15" y2="433.87" stroke="#000" stroke-width="1.7"/>
<text x="58.90" y="438.47" text-anchor="end" font-size="14">10</text>
<line x1="60.30" y1="418.81" x2="68.15" y2="418.81" stroke="#000" stroke-width="1.7"/>
<text x="58.90" y="423.41" text-anchor="end" font-size="14">20</text>
<line x1="60.30" y1="403.75" x2="68.15" y2="403.75" stroke="#000" stroke-width="1.7"/>
<text x="58.90" y="408.35" text-anchor="end" font-size="14">30</text>
<line x1="60.30" y1="388.68" x2="68.15" y2="388.68" stroke="#000" stroke-width="1.7"/>
<text x="58.90" y="393.28" text-anchor="end" font-size="14">40</text>
<line x1="60.30" y1="373.62" x2="68.15" y2="373.62" stroke="#000" stroke-width="1.7"/>
<text x="58.90" y="378.22" text-anchor="end" font-size="14">50</text>
<line x1="60.30" y1="358.55" x2="68.15" y2="358.55" stroke="#000" stroke-width="1.7"/>
<text x="58.90" y="363.15" text-anchor="end" font-size="14">60</text>
<line x1="60.30" y1="343.49" x2="68.15" y2="343.49" stroke="#000" stroke-width="1.7"/>
<text x="58.90" y="348.09" text-anchor="end" font-size="14">70</text>
<line x1="60.30" y1="328.43" x2="68.15" y2="328.43" stroke="#000" stroke-width="1.7"/>
<text x="58.90" y="333.03" text-anchor="end" font-size="14">80</text>
<line x1="60.30" y1="313.36" x2="68.15" y2="313.36" stroke="#000" stroke-width="1.7"/>
<text x="58.90" y="317.96" text-anchor="end" font-size="14">90</text>
<line x1="60.30" y1="298.30" x2="68.15" y2="298.30" stroke="#000" stroke-width="1.7"/>
<text x="58.90" y="302.90" text-anchor="end" font-size="14">100</text>
<line x1="75.59" y1="464.00" x2="75.59" y2="467.80" stroke="#000" stroke-width="1.7"/>
<line x1="83.87" y1="464.00" x2="83.87" y2="467.80" stroke="#000" stroke-width="1.7"/>
<line x1="92.16" y1="464.00" x2="92.16" y2="467.80" stroke="#000" stroke-width="1.7"/>
<line x1="100.45" y1="464.00" x2="100.45" y2="467.80" stroke="#000" stroke-width="1.7"/>
<line x1="108.73" y1="464.00" x2="108.73" y2="470.80" stroke="#000" stroke-width="1.7"/>
<line x1="117.02" y1="464.00" x2="117.02" y2="467.80" stroke="#000" stroke-width="1.7"/>
<line x1="125.31" y1="464.00" x2="125.31" y2="467.80" stroke="#000" stroke-width="1.7"/>
<line x1="133.59" y1="464.00" x2="133.59" y2="467.80" stroke="#000" stroke-width="1.7"/>
<line x1="141.88" y1="464.00" x2="141.88" y2="467.80" stroke="#000" stroke-width="1.7"/>
<line x1="150.17" y1="464.00" x2="150.17" y2="470.80" stroke="#000" stroke-width="1.7"/>
<line x1="158.45" y1="464.00" x2="158.45" y2="467.80" stroke="#000" stroke-width="1.7"/>
<line x1="166.74" y1="464.00" x2="166.74" y2="467.80" stroke="#000" stroke-width="1.7"/>
<line x1="175.03" y1="464.00" x2="175.03" y2="467.80" stroke="#000" stroke-width="1.7"/>
<line x1="183.31" y1="464.00" x2="183.31" y2="467.80" stroke="#000" stroke-width="1.7"/>
<line x1="191.60" y1="464.00" x2="191.60" y2="470.80" stroke="#000" stroke-width="1.7"/>
<line x1="199.89" y1="464.00" x2="199.89" y2="467.80" stroke="#000" stroke-width="1.7"/>
<line x1="208.17" y1="464.00" x2="208.17" y2="467.80" stroke="#000" stroke-width="1.7"/>
<line x1="216.46" y1="464.00" x2="216.46" y2="467.80" stroke="#000" stroke-width="1.7"/>
<line x1="224.75" y1="464.00" x2="224.75" y2="467.80" stroke="#000" stroke-width="1.7"/>
<line x1="233.03" y1="464.00" x2="233.03" y2="470.80" stroke="#000" stroke-width="1.7"/>
<line x1="241.32" y1="464.00" x2="241.32" y2="467.80" stroke="#000" stroke-width="1.7"/>
<line x1="249.61" y1="464.00" x2="249.61" y2="467.80" stroke="#000" stroke-width="1.7"/>
<line x1="257.89" y1="464.00" x2="257.89" y2="467.80" stroke="#000" stroke-width="1.7"/>
<line x1="266.18" y1="464.00" x2="266.18" y2="467.80" stroke="#000" stroke-width="1.7"/>
<line x1="274.47" y1="464.00" x2="274.47" y2="470.80" stroke="#000" stroke-width="1.7"/>
<line x1="282.75" y1="464.00" x2="282.75" y2="467.80" stroke="#000" stroke-width="1.7"/>
<line x1="291.04" y1="464.00" x2="291.04" y2="467.80" stroke="#000" stroke-width="1.7"/>
<line x1="299.33" y1="464.00" x2="299.33" y2="467.80" stroke="#000" stroke-width="1.7"/>
<line x1="307.61" y1="464.00" x2="307.61" y2="467.80" stroke="#000" stroke-width="1.7"/>
<line x1="315.90" y1="464.00" x2="315.90" y2="470.80" stroke="#000" stroke-width="1.7"/>
<text x="67.30" y="486.20" text-anchor="middle" font-size="14">55</text>
<text x="108.73" y="486.20" text-anchor="middle" font-size="14">60</text>
<text x="150.17" y="486.20" text-anchor="middle" font-size="14">65</text>
<text x="191.60" y="486.20" text-anchor="middle" font-size="14">70</text>
<text x="233.03" y="486.20" text-anchor="middle" font-size="14">75</text>
<text x="274.47" y="486.20" text-anchor="middle" font-size="14">80</text>
<text x="315.90" y="486.20" text-anchor="middle" font-size="14">85</text>
<text x="132.70" y="508.40" font-size="16">Temperature</text>
<text x="224.40" y="508.70" font-size="15.20" font-weight="normal" style="font-weight:normal">(</text>
<circle cx="232.05" cy="497.60" r="1.95" fill="none" stroke="#000" stroke-width="0.85"/>
<text x="233.00" y="509.10" font-size="19.20" font-weight="normal" style="font-weight:normal">C</text>
<text x="251.20" y="508.70" font-size="15.20" text-anchor="end" font-weight="normal" style="font-weight:normal">)</text>
<text transform="translate(31.80,381.15) rotate(-90)" text-anchor="middle" font-size="16">-d(RFU)/dT</text>
<text x="141.00" y="277.80" font-size="16.2">NTD-ClpC<tspan font-size="11.99" dy="-6.48">F80L</tspan></text>
<text x="0.50" y="277.00" font-size="24.5">c</text>
<line x1="71.40" y1="399.20" x2="89.00" y2="399.20" stroke="#111" stroke-width="2"/>
<text x="99.50" y="404.30" font-size="13.5">DMSO</text>
<line x1="71.40" y1="421.80" x2="89.00" y2="421.80" stroke="#1414ff" stroke-width="2"/>
<text x="99.50" y="426.90" font-size="13.5">ILE</text>
<line x1="71.40" y1="444.00" x2="89.00" y2="444.00" stroke="#ff1a1a" stroke-width="2"/>
<text x="99.50" y="449.10" font-size="13.5">ILF</text>
<line x1="528.40" y1="298.30" x2="528.40" y2="464.00" stroke="#000" stroke-width="1.5" stroke-dasharray="1.5 3.4"/>
<text x="513.40" y="323.20" font-size="12" fill="#000" style="fill:#000">62</text>
<line x1="544.97" y1="298.30" x2="544.97" y2="464.00" stroke="#ff0000" stroke-width="1.7" stroke-dasharray="4.2 3.4 1.2 4.2"/>
<text x="530.90" y="323.20" font-size="12" fill="#ff0000" style="fill:#ff0000">64</text>
<line x1="553.25" y1="298.30" x2="553.25" y2="464.00" stroke="#0000ff" stroke-width="1.7" stroke-dasharray="4.2 3.4 1.2 3.6 1.2 4.2"/>
<text x="558.10" y="323.20" font-size="12" fill="#0000ff" style="fill:#0000ff">65</text>
<path d="M429.30,333.50 C430.43,333.88 433.82,335.80 436.10,335.80 C438.38,335.80 440.72,333.77 443.00,333.50 C445.28,333.23 447.72,334.28 449.80,334.20 C451.88,334.12 453.60,332.62 455.50,333.00 C457.40,333.38 459.12,335.17 461.20,336.50 C463.28,337.83 465.72,339.48 468.00,341.00 C470.28,342.52 472.62,343.97 474.90,345.60 C477.18,347.23 479.42,349.47 481.70,350.80 C483.98,352.13 486.50,352.38 488.60,353.60 C490.70,354.82 492.40,356.97 494.30,358.10 C496.20,359.23 498.10,359.07 500.00,360.40 C501.90,361.73 503.80,363.05 505.70,366.10 C507.60,369.15 509.50,374.33 511.40,378.70 C513.30,383.07 515.20,387.37 517.10,392.30 C519.00,397.23 520.90,402.97 522.80,408.30 C524.70,413.63 526.60,419.35 528.50,424.30 C530.40,429.25 532.30,434.40 534.20,438.00 C536.10,441.60 538.20,444.08 539.90,445.90 C541.60,447.72 542.77,448.45 544.40,448.90 C546.03,449.35 548.30,449.23 549.70,448.60 C551.10,447.97 551.75,446.73 552.80,445.10 C553.85,443.47 554.95,441.15 556.00,438.80 C557.05,436.45 558.07,433.87 559.10,431.00 C560.13,428.13 561.28,424.47 562.20,421.60 C563.12,418.73 563.82,416.53 564.60,413.80 C565.38,411.07 566.12,408.07 566.90,405.20 C567.68,402.33 568.20,400.82 569.30,396.60 C570.40,392.38 572.02,385.43 573.50,379.90 C574.98,374.37 576.63,368.48 578.20,363.40 C579.77,358.32 581.33,353.50 582.90,349.40 C584.47,345.30 585.85,342.33 587.60,338.80 C589.35,335.27 591.25,331.33 593.40,328.20 C595.55,325.07 598.32,322.05 600.50,320.00 C602.68,317.95 604.27,316.95 606.50,315.90 C608.73,314.85 611.53,314.65 613.90,313.70 C616.27,312.75 618.23,311.35 620.70,310.20 C623.17,309.05 626.03,307.75 628.70,306.80 C631.37,305.85 633.85,304.98 636.70,304.50 C639.55,304.02 643.53,303.90 645.80,303.90 C648.07,303.90 648.60,304.02 650.30,304.50 C652.00,304.98 654.10,306.53 656.00,306.80 C657.90,307.07 659.60,306.48 661.70,306.10 C663.80,305.72 666.50,305.13 668.60,304.50 C670.70,303.87 672.78,302.67 674.30,302.30 C675.82,301.93 677.13,302.30 677.70,302.30" fill="none" stroke="#ff1a1a" stroke-width="2" stroke-linejoin="round"/>
<path d="M429.30,326.70 C430.82,326.92 434.98,327.63 438.40,328.00 C441.82,328.37 446.00,328.70 449.80,328.90 C453.60,329.10 457.40,328.97 461.20,329.20 C465.00,329.43 469.55,329.58 472.60,330.30 C475.65,331.02 477.22,332.28 479.50,333.50 C481.78,334.72 484.03,336.23 486.30,337.60 C488.57,338.97 490.82,340.25 493.10,341.70 C495.38,343.15 497.90,344.52 500.00,346.30 C502.10,348.08 503.80,349.85 505.70,352.40 C507.60,354.95 509.50,358.17 511.40,361.60 C513.30,365.03 515.20,369.02 517.10,373.00 C519.00,376.98 520.90,381.33 522.80,385.50 C524.70,389.67 526.60,393.43 528.50,398.00 C530.40,402.57 532.30,408.15 534.20,412.90 C536.10,417.65 538.10,422.05 539.90,426.50 C541.70,430.95 543.50,436.37 545.00,439.60 C546.50,442.83 547.60,444.33 548.90,445.90 C550.20,447.47 551.50,448.75 552.80,449.00 C554.10,449.25 555.38,448.57 556.70,447.40 C558.02,446.23 559.52,444.22 560.70,442.00 C561.88,439.78 562.77,436.98 563.80,434.10 C564.83,431.22 565.87,427.95 566.90,424.70 C567.93,421.45 569.08,417.85 570.00,414.60 C570.92,411.35 571.62,408.45 572.40,405.20 C573.18,401.95 573.63,399.32 574.70,395.10 C575.77,390.88 577.43,384.98 578.80,379.90 C580.17,374.82 581.43,369.50 582.90,364.60 C584.37,359.70 586.03,354.80 587.60,350.50 C589.17,346.20 590.73,342.52 592.30,338.80 C593.87,335.08 595.43,331.33 597.00,328.20 C598.57,325.07 600.28,321.98 601.70,320.00 C603.12,318.02 603.85,317.73 605.50,316.30 C607.15,314.87 609.45,312.98 611.60,311.40 C613.75,309.82 615.93,307.95 618.40,306.80 C620.87,305.65 623.73,305.07 626.40,304.50 C629.07,303.93 631.55,303.67 634.40,303.40 C637.25,303.13 640.85,303.20 643.50,302.90 C646.15,302.60 648.02,301.82 650.30,301.60 C652.58,301.38 654.92,301.75 657.20,301.60 C659.48,301.45 661.72,300.97 664.00,300.70 C666.28,300.43 668.62,300.38 670.90,300.00 C673.18,299.62 676.57,298.67 677.70,298.40" fill="none" stroke="#1414ff" stroke-width="2" stroke-linejoin="round"/>
<path d="M429.30,325.80 C430.43,326.05 433.82,326.78 436.10,327.30 C438.38,327.82 440.72,328.32 443.00,328.90 C445.28,329.48 447.53,330.03 449.80,330.80 C452.07,331.57 454.32,332.37 456.60,333.50 C458.88,334.63 461.22,336.08 463.50,337.60 C465.78,339.12 468.02,340.88 470.30,342.60 C472.58,344.32 475.10,346.27 477.20,347.90 C479.30,349.53 481.00,350.32 482.90,352.40 C484.80,354.48 486.70,357.17 488.60,360.40 C490.50,363.63 492.40,367.62 494.30,371.80 C496.20,375.98 498.10,380.75 500.00,385.50 C501.90,390.25 503.80,395.37 505.70,400.30 C507.60,405.23 509.50,410.35 511.40,415.10 C513.30,419.85 515.20,424.42 517.10,428.80 C519.00,433.18 520.90,438.17 522.80,441.40 C524.70,444.63 526.80,446.95 528.50,448.20 C530.20,449.45 531.48,449.08 533.00,448.90 C534.52,448.72 536.07,448.35 537.60,447.10 C539.13,445.85 540.97,443.68 542.20,441.40 C543.43,439.12 543.88,436.18 545.00,433.40 C546.12,430.62 547.60,428.10 548.90,424.70 C550.20,421.30 551.62,416.65 552.80,413.00 C553.98,409.35 555.10,405.78 556.00,402.80 C556.90,399.82 557.05,398.92 558.20,395.10 C559.35,391.28 561.33,384.98 562.90,379.90 C564.47,374.82 566.03,369.88 567.60,364.60 C569.17,359.32 570.73,353.28 572.30,348.20 C573.87,343.12 575.43,338.02 577.00,334.10 C578.57,330.18 580.33,327.05 581.70,324.70 C583.07,322.35 584.07,321.52 585.20,320.00 C586.33,318.48 587.15,317.03 588.50,315.60 C589.85,314.17 591.55,312.60 593.30,311.40 C595.05,310.20 596.90,309.17 599.00,308.40 C601.10,307.63 603.62,307.55 605.90,306.80 C608.18,306.05 610.23,304.55 612.70,303.90 C615.17,303.25 617.47,303.07 620.70,302.90 C623.93,302.73 628.68,303.00 632.10,302.90 C635.52,302.80 638.17,302.67 641.20,302.30 C644.23,301.93 647.25,301.08 650.30,300.70 C653.35,300.32 656.45,300.00 659.50,300.00 C662.55,300.00 665.57,300.32 668.60,300.70 C671.63,301.08 676.18,302.03 677.70,302.30" fill="none" stroke="#111" stroke-width="2" stroke-linejoin="round"/>
<line x1="429.00" y1="298.30" x2="429.00" y2="470.80" stroke="#000" stroke-width="1.7"/>
<line x1="428.15" y1="464.00" x2="678.35" y2="464.00" stroke="#000" stroke-width="1.7"/>
<line x1="422.00" y1="464.00" x2="429.85" y2="464.00" stroke="#000" stroke-width="1.7"/>
<text x="420.60" y="468.60" text-anchor="end" font-size="14">-10</text>
<line x1="422.00" y1="448.94" x2="429.85" y2="448.94" stroke="#000" stroke-width="1.7"/>
<text x="420.60" y="453.54" text-anchor="end" font-size="14">0</text>
<line x1="422.00" y1="433.87" x2="429.85" y2="433.87" stroke="#000" stroke-width="1.7"/>
<text x="420.60" y="438.47" text-anchor="end" font-size="14">10</text>
<line x1="422.00" y1="418.81" x2="429.85" y2="418.81" stroke="#000" stroke-width="1.7"/>
<text x="420.60" y="423.41" text-anchor="end" font-size="14">20</text>
<line x1="422.00" y1="403.75" x2="429.85" y2="403.75" stroke="#000" stroke-width="1.7"/>
<text x="420.60" y="408.35" text-anchor="end" font-size="14">30</text>
<line x1="422.00" y1="388.68" x2="429.85" y2="388.68" stroke="#000" stroke-width="1.7"/>
<text x="420.60" y="393.28" text-anchor="end" font-size="14">40</text>
<line x1="422.00" y1="373.62" x2="429.85" y2="373.62" stroke="#000" stroke-width="1.7"/>
<text x="420.60" y="378.22" text-anchor="end" font-size="14">50</text>
<line x1="422.00" y1="358.55" x2="429.85" y2="358.55" stroke="#000" stroke-width="1.7"/>
<text x="420.60" y="363.15" text-anchor="end" font-size="14">60</text>
<line x1="422.00" y1="343.49" x2="429.85" y2="343.49" stroke="#000" stroke-width="1.7"/>
<text x="420.60" y="348.09" text-anchor="end" font-size="14">70</text>
<line x1="422.00" y1="328.43" x2="429.85" y2="328.43" stroke="#000" stroke-width="1.7"/>
<text x="420.60" y="333.03" text-anchor="end" font-size="14">80</text>
<line x1="422.00" y1="313.36" x2="429.85" y2="313.36" stroke="#000" stroke-width="1.7"/>
<text x="420.60" y="317.96" text-anchor="end" font-size="14">90</text>
<line x1="422.00" y1="298.30" x2="429.85" y2="298.30" stroke="#000" stroke-width="1.7"/>
<text x="420.60" y="302.90" text-anchor="end" font-size="14">100</text>
<line x1="437.28" y1="464.00" x2="437.28" y2="467.80" stroke="#000" stroke-width="1.7"/>
<line x1="445.57" y1="464.00" x2="445.57" y2="467.80" stroke="#000" stroke-width="1.7"/>
<line x1="453.85" y1="464.00" x2="453.85" y2="467.80" stroke="#000" stroke-width="1.7"/>
<line x1="462.13" y1="464.00" x2="462.13" y2="467.80" stroke="#000" stroke-width="1.7"/>
<line x1="470.42" y1="464.00" x2="470.42" y2="470.80" stroke="#000" stroke-width="1.7"/>
<line x1="478.70" y1="464.00" x2="478.70" y2="467.80" stroke="#000" stroke-width="1.7"/>
<line x1="486.98" y1="464.00" x2="486.98" y2="467.80" stroke="#000" stroke-width="1.7"/>
<line x1="495.27" y1="464.00" x2="495.27" y2="467.80" stroke="#000" stroke-width="1.7"/>
<line x1="503.55" y1="464.00" x2="503.55" y2="467.80" stroke="#000" stroke-width="1.7"/>
<line x1="511.83" y1="464.00" x2="511.83" y2="470.80" stroke="#000" stroke-width="1.7"/>
<line x1="520.12" y1="464.00" x2="520.12" y2="467.80" stroke="#000" stroke-width="1.7"/>
<line x1="528.40" y1="464.00" x2="528.40" y2="467.80" stroke="#000" stroke-width="1.7"/>
<line x1="536.68" y1="464.00" x2="536.68" y2="467.80" stroke="#000" stroke-width="1.7"/>
<line x1="544.97" y1="464.00" x2="544.97" y2="467.80" stroke="#000" stroke-width="1.7"/>
<line x1="553.25" y1="464.00" x2="553.25" y2="470.80" stroke="#000" stroke-width="1.7"/>
<line x1="561.53" y1="464.00" x2="561.53" y2="467.80" stroke="#000" stroke-width="1.7"/>
<line x1="569.82" y1="464.00" x2="569.82" y2="467.80" stroke="#000" stroke-width="1.7"/>
<line x1="578.10" y1="464.00" x2="578.10" y2="467.80" stroke="#000" stroke-width="1.7"/>
<line x1="586.38" y1="464.00" x2="586.38" y2="467.80" stroke="#000" stroke-width="1.7"/>
<line x1="594.67" y1="464.00" x2="594.67" y2="470.80" stroke="#000" stroke-width="1.7"/>
<line x1="602.95" y1="464.00" x2="602.95" y2="467.80" stroke="#000" stroke-width="1.7"/>
<line x1="611.23" y1="464.00" x2="611.23" y2="467.80" stroke="#000" stroke-width="1.7"/>
<line x1="619.52" y1="464.00" x2="619.52" y2="467.80" stroke="#000" stroke-width="1.7"/>
<line x1="627.80" y1="464.00" x2="627.80" y2="467.80" stroke="#000" stroke-width="1.7"/>
<line x1="636.08" y1="464.00" x2="636.08" y2="470.80" stroke="#000" stroke-width="1.7"/>
<line x1="644.37" y1="464.00" x2="644.37" y2="467.80" stroke="#000" stroke-width="1.7"/>
<line x1="652.65" y1="464.00" x2="652.65" y2="467.80" stroke="#000" stroke-width="1.7"/>
<line x1="660.93" y1="464.00" x2="660.93" y2="467.80" stroke="#000" stroke-width="1.7"/>
<line x1="669.22" y1="464.00" x2="669.22" y2="467.80" stroke="#000" stroke-width="1.7"/>
<line x1="677.50" y1="464.00" x2="677.50" y2="470.80" stroke="#000" stroke-width="1.7"/>
<text x="429.00" y="486.20" text-anchor="middle" font-size="14">50</text>
<text x="470.42" y="486.20" text-anchor="middle" font-size="14">55</text>
<text x="511.83" y="486.20" text-anchor="middle" font-size="14">60</text>
<text x="553.25" y="486.20" text-anchor="middle" font-size="14">65</text>
<text x="594.67" y="486.20" text-anchor="middle" font-size="14">70</text>
<text x="636.08" y="486.20" text-anchor="middle" font-size="14">75</text>
<text x="677.50" y="486.20" text-anchor="middle" font-size="14">80</text>
<text x="494.35" y="508.40" font-size="16">Temperature</text>
<text x="586.05" y="508.70" font-size="15.20" font-weight="normal" style="font-weight:normal">(</text>
<circle cx="593.70" cy="497.60" r="1.95" fill="none" stroke="#000" stroke-width="0.85"/>
<text x="594.65" y="509.10" font-size="19.20" font-weight="normal" style="font-weight:normal">C</text>
<text x="612.85" y="508.70" font-size="15.20" text-anchor="end" font-weight="normal" style="font-weight:normal">)</text>
<text transform="translate(393.50,381.15) rotate(-90)" text-anchor="middle" font-size="16">-d(RFU)/dT</text>
<text x="501.50" y="277.40" font-size="16.2">NTD-ClpC<tspan font-size="11.99" dy="-6.48">F80V</tspan></text>
<text x="360.30" y="277.50" font-size="24.5">d</text>
<line x1="431.10" y1="399.40" x2="448.60" y2="399.40" stroke="#111" stroke-width="2"/>
<text x="459.10" y="403.90" font-size="12.5">DMSO</text>
<line x1="431.10" y1="421.90" x2="448.60" y2="421.90" stroke="#1414ff" stroke-width="2"/>
<text x="459.10" y="426.40" font-size="12.5">ILE</text>
<line x1="431.10" y1="444.20" x2="448.60" y2="444.20" stroke="#ff1a1a" stroke-width="2"/>
<text x="459.10" y="448.70" font-size="12.5">ILF</text>
<line x1="389.43" y1="571.20" x2="389.43" y2="723.40" stroke="#000" stroke-width="1.5" stroke-dasharray="1.5 3.1"/>
<text x="376.90" y="597.50" font-size="11" fill="#000" style="fill:#000">61</text>
<line x1="400.87" y1="571.20" x2="400.87" y2="723.40" stroke="#ff0000" stroke-width="1.7" stroke-dasharray="4.2 3.4 1.2 3.6 1.2 4.2"/>
<text x="392.30" y="567.70" font-size="11" fill="#ff0000" style="fill:#ff0000">62.5</text>
<line x1="412.31" y1="571.20" x2="412.31" y2="723.40" stroke="#0000ff" stroke-width="1.7" stroke-dasharray="4.2 3.4 1.2 4.2"/>
<text x="418.00" y="597.50" font-size="11" fill="#0000ff" style="fill:#0000ff">64</text>
<path d="M267.10,609.40 C267.63,609.82 268.88,611.73 270.30,611.90 C271.72,612.07 273.67,611.00 275.60,610.40 C277.53,609.80 280.15,609.10 281.90,608.30 C283.65,607.50 284.68,606.37 286.10,605.60 C287.52,604.83 288.82,603.42 290.40,603.70 C291.98,603.98 293.67,606.07 295.60,607.30 C297.53,608.53 299.88,610.05 302.00,611.10 C304.12,612.15 306.18,612.65 308.30,613.60 C310.42,614.55 312.77,616.10 314.70,616.80 C316.63,617.50 318.15,617.28 319.90,617.80 C321.65,618.32 323.62,618.92 325.20,619.90 C326.78,620.88 327.98,622.82 329.40,623.70 C330.82,624.58 332.10,624.07 333.70,625.20 C335.30,626.33 337.42,628.73 339.00,630.50 C340.58,632.27 341.80,634.32 343.20,635.80 C344.60,637.28 346.00,637.82 347.40,639.40 C348.80,640.98 350.02,643.33 351.60,645.30 C353.18,647.27 355.32,649.43 356.90,651.20 C358.48,652.97 359.52,653.02 361.10,655.90 C362.68,658.78 364.63,665.33 366.40,668.50 C368.17,671.67 369.93,672.43 371.70,674.90 C373.47,677.37 375.42,681.20 377.00,683.30 C378.58,685.40 379.82,686.43 381.20,687.50 C382.58,688.57 383.92,687.75 385.30,689.70 C386.68,691.65 388.10,696.22 389.50,699.20 C390.90,702.18 392.28,705.85 393.70,707.60 C395.12,709.35 396.58,709.52 398.00,709.70 C399.42,709.88 400.80,709.58 402.20,708.70 C403.60,707.82 405.00,706.87 406.40,704.40 C407.80,701.93 409.18,697.42 410.60,693.90 C412.02,690.38 413.32,686.82 414.90,683.30 C416.48,679.78 418.52,676.32 420.10,672.80 C421.68,669.28 422.98,666.08 424.40,662.20 C425.82,658.32 427.20,653.90 428.60,649.50 C430.00,645.10 431.40,639.85 432.80,635.80 C434.20,631.75 435.42,628.55 437.00,625.20 C438.58,621.85 440.53,618.33 442.30,615.70 C444.07,613.07 445.83,611.52 447.60,609.40 C449.37,607.28 451.13,604.95 452.90,603.00 C454.67,601.05 456.43,599.53 458.20,597.70 C459.97,595.87 461.75,593.30 463.50,592.00 C465.25,590.70 466.77,590.53 468.70,589.90 C470.63,589.27 472.98,588.90 475.10,588.20 C477.22,587.50 479.28,586.33 481.40,585.70 C483.52,585.07 485.87,584.75 487.80,584.40 C489.73,584.05 491.42,583.83 493.00,583.60 C494.58,583.37 496.58,583.10 497.30,583.00" fill="none" stroke="#ff1a1a" stroke-width="2" stroke-linejoin="round"/>
<path d="M267.10,615.30 C268.17,615.30 271.38,615.23 273.50,615.30 C275.62,615.37 277.70,615.35 279.80,615.70 C281.90,616.05 283.98,616.98 286.10,617.40 C288.22,617.82 290.57,617.85 292.50,618.20 C294.43,618.55 296.12,618.93 297.70,619.50 C299.28,620.07 300.40,621.45 302.00,621.60 C303.60,621.75 305.55,620.60 307.30,620.40 C309.05,620.20 310.75,620.30 312.50,620.40 C314.25,620.50 316.03,621.37 317.80,621.00 C319.57,620.63 321.33,617.95 323.10,618.20 C324.87,618.45 326.47,622.03 328.40,622.50 C330.33,622.97 332.93,620.72 334.70,621.00 C336.47,621.28 337.42,623.03 339.00,624.20 C340.58,625.37 342.62,627.83 344.20,628.00 C345.78,628.17 347.27,625.32 348.50,625.20 C349.73,625.08 350.37,626.07 351.60,627.30 C352.83,628.53 354.13,631.02 355.90,632.60 C357.67,634.18 360.45,635.03 362.20,636.80 C363.95,638.57 365.00,641.08 366.40,643.20 C367.80,645.32 368.83,647.57 370.60,649.50 C372.37,651.43 375.23,652.87 377.00,654.80 C378.77,656.73 380.00,659.17 381.20,661.10 C382.40,663.03 382.82,664.10 384.20,666.40 C385.58,668.70 387.92,672.08 389.50,674.90 C391.08,677.72 392.28,680.48 393.70,683.30 C395.12,686.12 396.58,689.33 398.00,691.80 C399.42,694.27 400.80,696.00 402.20,698.10 C403.60,700.20 405.00,702.63 406.40,704.40 C407.80,706.17 409.37,707.82 410.60,708.70 C411.83,709.58 412.57,709.88 413.80,709.70 C415.03,709.52 416.58,708.65 418.00,707.60 C419.42,706.55 420.72,705.52 422.30,703.40 C423.88,701.28 425.75,698.60 427.50,694.90 C429.25,691.20 431.22,685.95 432.80,681.20 C434.38,676.45 435.58,671.33 437.00,666.40 C438.42,661.47 439.88,656.35 441.30,651.60 C442.72,646.85 444.10,642.12 445.50,637.90 C446.90,633.68 448.28,629.30 449.70,626.30 C451.12,623.30 452.42,621.83 454.00,619.90 C455.58,617.97 457.45,616.38 459.20,614.70 C460.95,613.02 462.55,611.12 464.50,609.80 C466.45,608.48 468.78,607.93 470.90,606.80 C473.02,605.67 475.10,604.05 477.20,603.00 C479.30,601.95 481.38,601.38 483.50,600.50 C485.62,599.62 487.60,598.68 489.90,597.70 C492.20,596.72 496.07,595.12 497.30,594.60" fill="none" stroke="#1414ff" stroke-width="2" stroke-linejoin="round"/>
<path d="M267.10,612.50 C267.63,612.40 269.07,612.25 270.30,611.90 C271.53,611.55 273.10,610.05 274.50,610.40 C275.90,610.75 277.28,613.05 278.70,614.00 C280.12,614.95 281.58,615.47 283.00,616.10 C284.42,616.73 285.97,616.98 287.20,617.80 C288.43,618.62 289.17,619.87 290.40,621.00 C291.63,622.13 293.02,624.25 294.60,624.60 C296.18,624.95 298.15,623.10 299.90,623.10 C301.65,623.10 303.52,624.25 305.10,624.60 C306.68,624.95 307.98,625.27 309.40,625.20 C310.82,625.13 312.02,623.73 313.60,624.20 C315.18,624.67 316.97,626.67 318.90,628.00 C320.83,629.33 323.27,630.38 325.20,632.20 C327.13,634.02 328.73,636.65 330.50,638.90 C332.27,641.15 334.03,643.23 335.80,645.70 C337.57,648.17 339.35,651.23 341.10,653.70 C342.85,656.17 344.55,658.03 346.30,660.50 C348.05,662.97 349.83,665.75 351.60,668.50 C353.37,671.25 355.13,674.35 356.90,677.00 C358.67,679.65 360.43,681.93 362.20,684.40 C363.97,686.87 365.73,689.68 367.50,691.80 C369.27,693.92 371.05,694.82 372.80,697.10 C374.55,699.38 376.42,703.57 378.00,705.50 C379.58,707.43 381.27,708.35 382.30,708.70 C383.33,709.05 383.17,707.43 384.20,707.60 C385.23,707.77 387.08,709.35 388.50,709.70 C389.92,710.05 391.30,710.93 392.70,709.70 C394.10,708.47 395.50,704.58 396.90,702.30 C398.30,700.02 399.68,697.93 401.10,696.00 C402.52,694.07 403.98,693.52 405.40,690.70 C406.82,687.88 408.20,683.50 409.60,679.10 C411.00,674.70 412.22,668.88 413.80,664.30 C415.38,659.72 417.52,655.12 419.10,651.60 C420.68,648.08 421.72,645.67 423.30,643.20 C424.88,640.73 426.83,639.10 428.60,636.80 C430.37,634.50 432.13,631.87 433.90,629.40 C435.67,626.93 437.45,624.45 439.20,622.00 C440.95,619.55 442.65,617.15 444.40,614.70 C446.15,612.25 447.93,609.60 449.70,607.30 C451.47,605.00 453.23,603.02 455.00,600.90 C456.77,598.78 458.72,596.18 460.30,594.60 C461.88,593.02 463.10,591.75 464.50,591.40 C465.90,591.05 467.28,592.67 468.70,592.50 C470.12,592.33 471.58,591.03 473.00,590.40 C474.42,589.77 475.80,588.78 477.20,588.70 C478.60,588.62 480.00,590.05 481.40,589.90 C482.80,589.75 484.18,588.50 485.60,587.80 C487.02,587.10 488.48,585.90 489.90,585.70 C491.32,585.50 492.87,586.35 494.10,586.60 C495.33,586.85 496.77,587.10 497.30,587.20" fill="none" stroke="#111" stroke-width="2" stroke-linejoin="round"/>
<line x1="267.40" y1="571.20" x2="267.40" y2="730.20" stroke="#000" stroke-width="1.7"/>
<line x1="266.55" y1="723.40" x2="497.05" y2="723.40" stroke="#000" stroke-width="1.7"/>
<line x1="261.10" y1="723.40" x2="268.25" y2="723.40" stroke="#000" stroke-width="1.7"/>
<text x="259.00" y="727.60" text-anchor="end" font-size="12.5">-10</text>
<line x1="261.10" y1="709.56" x2="268.25" y2="709.56" stroke="#000" stroke-width="1.7"/>
<text x="259.00" y="713.76" text-anchor="end" font-size="12.5">0</text>
<line x1="261.10" y1="695.73" x2="268.25" y2="695.73" stroke="#000" stroke-width="1.7"/>
<text x="259.00" y="699.93" text-anchor="end" font-size="12.5">10</text>
<line x1="261.10" y1="681.89" x2="268.25" y2="681.89" stroke="#000" stroke-width="1.7"/>
<text x="259.00" y="686.09" text-anchor="end" font-size="12.5">20</text>
<line x1="261.10" y1="668.05" x2="268.25" y2="668.05" stroke="#000" stroke-width="1.7"/>
<text x="259.00" y="672.25" text-anchor="end" font-size="12.5">30</text>
<line x1="261.10" y1="654.22" x2="268.25" y2="654.22" stroke="#000" stroke-width="1.7"/>
<text x="259.00" y="658.42" text-anchor="end" font-size="12.5">40</text>
<line x1="261.10" y1="640.38" x2="268.25" y2="640.38" stroke="#000" stroke-width="1.7"/>
<text x="259.00" y="644.58" text-anchor="end" font-size="12.5">50</text>
<line x1="261.10" y1="626.55" x2="268.25" y2="626.55" stroke="#000" stroke-width="1.7"/>
<text x="259.00" y="630.75" text-anchor="end" font-size="12.5">60</text>
<line x1="261.10" y1="612.71" x2="268.25" y2="612.71" stroke="#000" stroke-width="1.7"/>
<text x="259.00" y="616.91" text-anchor="end" font-size="12.5">70</text>
<line x1="261.10" y1="598.87" x2="268.25" y2="598.87" stroke="#000" stroke-width="1.7"/>
<text x="259.00" y="603.07" text-anchor="end" font-size="12.5">80</text>
<line x1="261.10" y1="585.04" x2="268.25" y2="585.04" stroke="#000" stroke-width="1.7"/>
<text x="259.00" y="589.24" text-anchor="end" font-size="12.5">90</text>
<line x1="261.10" y1="571.20" x2="268.25" y2="571.20" stroke="#000" stroke-width="1.7"/>
<text x="259.00" y="575.40" text-anchor="end" font-size="12.5">100</text>
<line x1="275.03" y1="723.40" x2="275.03" y2="726.90" stroke="#000" stroke-width="1.7"/>
<line x1="282.65" y1="723.40" x2="282.65" y2="726.90" stroke="#000" stroke-width="1.7"/>
<line x1="290.28" y1="723.40" x2="290.28" y2="726.90" stroke="#000" stroke-width="1.7"/>
<line x1="297.91" y1="723.40" x2="297.91" y2="726.90" stroke="#000" stroke-width="1.7"/>
<line x1="305.53" y1="723.40" x2="305.53" y2="729.60" stroke="#000" stroke-width="1.7"/>
<line x1="313.16" y1="723.40" x2="313.16" y2="726.90" stroke="#000" stroke-width="1.7"/>
<line x1="320.79" y1="723.40" x2="320.79" y2="726.90" stroke="#000" stroke-width="1.7"/>
<line x1="328.41" y1="723.40" x2="328.41" y2="726.90" stroke="#000" stroke-width="1.7"/>
<line x1="336.04" y1="723.40" x2="336.04" y2="726.90" stroke="#000" stroke-width="1.7"/>
<line x1="343.67" y1="723.40" x2="343.67" y2="729.60" stroke="#000" stroke-width="1.7"/>
<line x1="351.29" y1="723.40" x2="351.29" y2="726.90" stroke="#000" stroke-width="1.7"/>
<line x1="358.92" y1="723.40" x2="358.92" y2="726.90" stroke="#000" stroke-width="1.7"/>
<line x1="366.55" y1="723.40" x2="366.55" y2="726.90" stroke="#000" stroke-width="1.7"/>
<line x1="374.17" y1="723.40" x2="374.17" y2="726.90" stroke="#000" stroke-width="1.7"/>
<line x1="381.80" y1="723.40" x2="381.80" y2="729.60" stroke="#000" stroke-width="1.7"/>
<line x1="389.43" y1="723.40" x2="389.43" y2="726.90" stroke="#000" stroke-width="1.7"/>
<line x1="397.05" y1="723.40" x2="397.05" y2="726.90" stroke="#000" stroke-width="1.7"/>
<line x1="404.68" y1="723.40" x2="404.68" y2="726.90" stroke="#000" stroke-width="1.7"/>
<line x1="412.31" y1="723.40" x2="412.31" y2="726.90" stroke="#000" stroke-width="1.7"/>
<line x1="419.93" y1="723.40" x2="419.93" y2="729.60" stroke="#000" stroke-width="1.7"/>
<line x1="427.56" y1="723.40" x2="427.56" y2="726.90" stroke="#000" stroke-width="1.7"/>
<line x1="435.19" y1="723.40" x2="435.19" y2="726.90" stroke="#000" stroke-width="1.7"/>
<line x1="442.81" y1="723.40" x2="442.81" y2="726.90" stroke="#000" stroke-width="1.7"/>
<line x1="450.44" y1="723.40" x2="450.44" y2="726.90" stroke="#000" stroke-width="1.7"/>
<line x1="458.07" y1="723.40" x2="458.07" y2="729.60" stroke="#000" stroke-width="1.7"/>
<line x1="465.69" y1="723.40" x2="465.69" y2="726.90" stroke="#000" stroke-width="1.7"/>
<line x1="473.32" y1="723.40" x2="473.32" y2="726.90" stroke="#000" stroke-width="1.7"/>
<line x1="480.95" y1="723.40" x2="480.95" y2="726.90" stroke="#000" stroke-width="1.7"/>
<line x1="488.57" y1="723.40" x2="488.57" y2="726.90" stroke="#000" stroke-width="1.7"/>
<line x1="496.20" y1="723.40" x2="496.20" y2="729.60" stroke="#000" stroke-width="1.7"/>
<text x="267.40" y="744.20" text-anchor="middle" font-size="12.5">45</text>
<text x="305.53" y="744.20" text-anchor="middle" font-size="12.5">50</text>
<text x="343.67" y="744.20" text-anchor="middle" font-size="12.5">55</text>
<text x="381.80" y="744.20" text-anchor="middle" font-size="12.5">60</text>
<text x="419.93" y="744.20" text-anchor="middle" font-size="12.5">65</text>
<text x="458.07" y="744.20" text-anchor="middle" font-size="12.5">70</text>
<text x="496.20" y="744.20" text-anchor="middle" font-size="12.5">75</text>
<text x="328.44" y="762.80" font-size="14.5">Temperature</text>
<text x="411.52" y="763.10" font-size="13.77" font-weight="normal" style="font-weight:normal">(</text>
<circle cx="418.45" cy="753.02" r="1.77" fill="none" stroke="#000" stroke-width="0.85"/>
<text x="419.31" y="763.50" font-size="17.40" font-weight="normal" style="font-weight:normal">C</text>
<text x="435.80" y="763.10" font-size="13.77" text-anchor="end" font-weight="normal" style="font-weight:normal">)</text>
<text transform="translate(234.00,647.30) rotate(-90)" text-anchor="middle" font-size="14.5">-d(RFU)/dT</text>
<text x="334.50" y="552.00" font-size="14.55">NTD-ClpC<tspan font-size="11.64" dy="-5.38">F80C</tspan></text>
<text x="195.20" y="560.80" font-size="24.5">e</text>
<line x1="271.10" y1="662.80" x2="287.10" y2="662.80" stroke="#111" stroke-width="2"/>
<text x="296.80" y="667.30" font-size="11.5">DMSO</text>
<line x1="271.10" y1="683.90" x2="287.10" y2="683.90" stroke="#1414ff" stroke-width="2"/>
<text x="296.80" y="688.40" font-size="11.5">ILE</text>
<line x1="271.10" y1="704.30" x2="287.10" y2="704.30" stroke="#ff1a1a" stroke-width="2"/>
<text x="296.80" y="708.80" font-size="11.5">ILF</text>
</svg></body></html>
